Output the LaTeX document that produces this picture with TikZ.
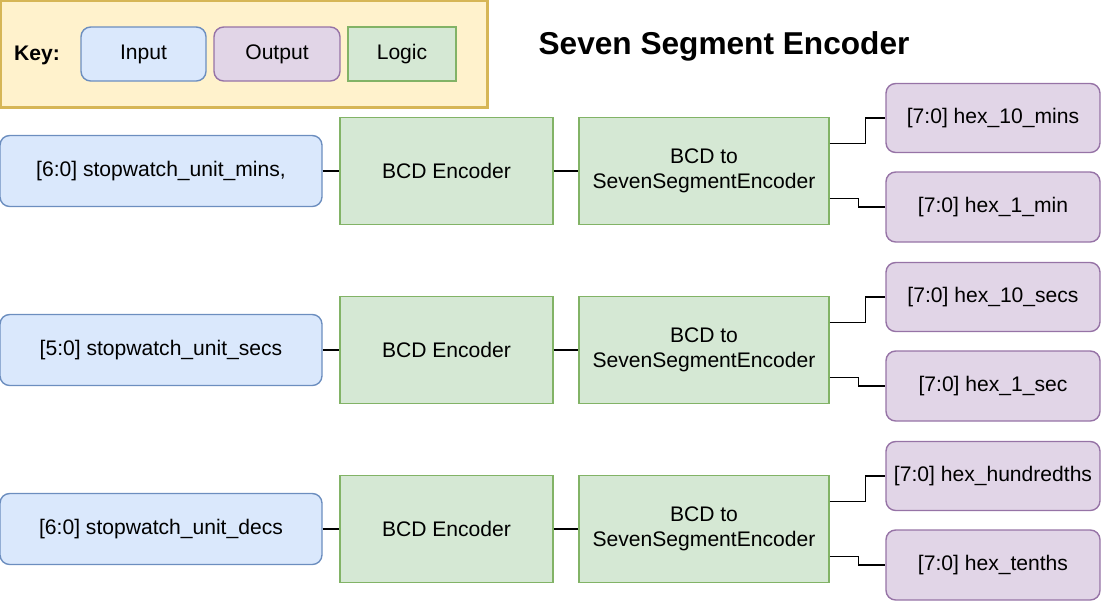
\documentclass[tikz,border=0pt]{standalone}
\usepackage{fontspec}
\setmainfont{Liberation Sans}
\usetikzlibrary{positioning, calc}
\definecolor{inputfill}{HTML}{DAE8FC}
\definecolor{inputline}{HTML}{6C8EBF}
\definecolor{outputfill}{HTML}{E1D5E7}
\definecolor{outputline}{HTML}{9673A6}
\definecolor{logicfill}{HTML}{D5E8D4}
\definecolor{logicline}{HTML}{82B366}
\definecolor{keyfill}{HTML}{FFF2CC}
\definecolor{keyline}{HTML}{D6B656}

\begin{document}
\begin{tikzpicture}[x=0.02cm,y=-0.02cm,
  font=\fontsize{12}{14.2}\selectfont,
  box/.style={line width=0.8pt, inner sep=0pt, align=center},
  inputbox/.style={box, draw=inputline, fill=inputfill, rounded corners=5.5pt},
  outputbox/.style={box, draw=outputline, fill=outputfill, rounded corners=5.5pt},
  logicbox/.style={box, draw=logicline, fill=logicfill},
  wire/.style={line width=0.6pt, black}]
\def\u{0.02cm}
\useasboundingbox (0,0) rectangle (1102,602);

%key
\node[draw=keyline, fill=keyfill, line width=1.2pt, minimum width=487*\u, minimum height=107*\u, inner sep=0pt] (keyframe) at (244,54) {};
\node[font=\fontsize{12}{14}\selectfont\bfseries] (keylabel) at (37,55) {Key:};
\node[inputbox, minimum width=125*\u, minimum height=54*\u] (keyinput) at (143.5,54) {Input};
\node[outputbox, minimum width=126*\u, minimum height=54*\u] (keyoutput) at (277,54) {Output};
\node[logicbox, minimum width=108*\u, minimum height=54*\u] (keylogic) at (402,54) {Logic};

%title
\node[font=\fontsize{18}{20}\selectfont\bfseries] (title) at (724,46) {Seven Segment Encoder};

%encoder rows
\foreach \r/\y/\intxt/\outa/\outb in {
  1/171/{[6:0] stopwatch\_unit\_mins,}/{[7:0] hex\_10\_mins}/{[7:0] hex\_1\_min},
  2/350/{[5:0] stopwatch\_unit\_secs}/{[7:0] hex\_10\_secs}/{[7:0] hex\_1\_sec},
  3/529/{[6:0] stopwatch\_unit\_decs}/{[7:0] hex\_hundredths}/{[7:0] hex\_tenths}} {
  \node[inputbox, minimum width=322*\u, minimum height=71*\u] (in\r) at (161,\y) {\intxt};
  \node[logicbox, minimum width=213*\u, minimum height=107*\u] (bcd\r) at (446.5,\y) {BCD Encoder};
  \node[logicbox, minimum width=250*\u, minimum height=107*\u] (seg\r) at (704,\y) {BCD to\\SevenSegmentEncoder};
  \node[outputbox, minimum width=214*\u, minimum height=69*\u] (outa\r) at (993,\y-53) {\outa};
  \node[outputbox, minimum width=214*\u, minimum height=70*\u] (outb\r) at (993,\y+36) {\outb};

  \draw[wire] (in\r) -- (bcd\r);
  \draw[wire] (bcd\r) -- (seg\r);
  \draw[wire] ($(seg\r.north east)!0.25!(seg\r.south east)$) -- ++(36,0) |- (outa\r);
  \draw[wire] ($(seg\r.north east)!0.75!(seg\r.south east)$) -- ++(29,0) |- (outb\r);
}
\end{tikzpicture}
\end{document}
